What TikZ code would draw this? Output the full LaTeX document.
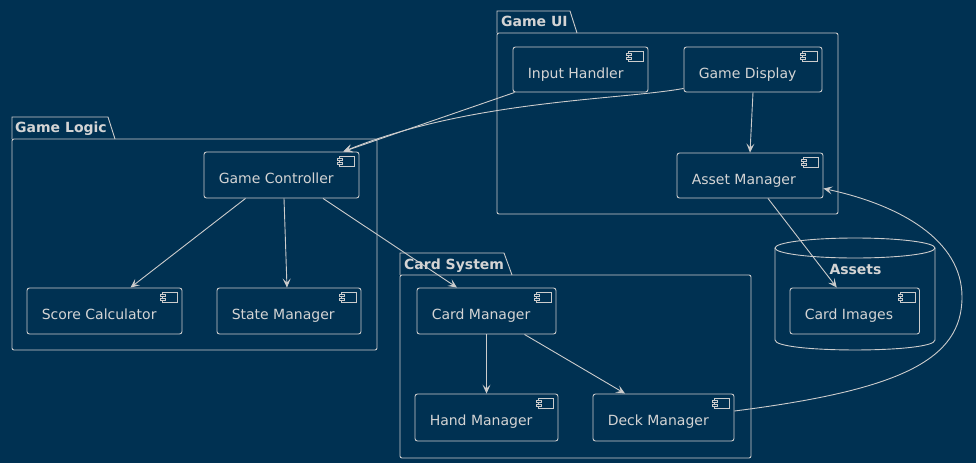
\documentclass[tikz,border=0pt]{standalone}
\usepackage{fontspec}
\setmainfont{DejaVu Sans}
\usetikzlibrary{arrows.meta,fit,calc}
\definecolor{bg}{HTML}{003152}
\definecolor{fg}{HTML}{CCCCCC}
\definecolor{tx}{HTML}{D4D4D4}
\tikzset{
  comp/.style={draw=fg, line width=0.9pt, rounded corners=2.5pt, inner sep=0pt},
  ctext/.style={anchor=base west, text=tx, font=\fontsize{14}{16}\selectfont, inner sep=0pt},
  ptitle/.style={anchor=base west, text=tx, font=\bfseries\fontsize{14}{16}\selectfont, inner sep=0pt},
  pkg/.style={draw=fg, line width=0.9pt},
  icon/.style={draw=fg, line width=0.8pt},
  edge/.style={draw=fg, line width=0.9pt, -{Stealth[length=9pt,width=8pt,inset=4pt]}},
}
\newcommand{\compbox}[6]{%
  \node[comp, fit={(#2,#3) (#4,#5)}] (#1) {};
  \node[ctext] at ([xshift=15pt,yshift=-32pt]#1.north west) {#6};
  \draw[icon] ([xshift=-20pt,yshift=-4.5pt]#1.north east) rectangle ([xshift=-5pt,yshift=-14.5pt]#1.north east);
  \draw[icon, fill=bg] ([xshift=-22pt,yshift=-6.5pt]#1.north east) rectangle ([xshift=-17.5pt,yshift=-8.5pt]#1.north east);
  \draw[icon, fill=bg] ([xshift=-22pt,yshift=-10.5pt]#1.north east) rectangle ([xshift=-17.5pt,yshift=-12.5pt]#1.north east);
}
\begin{document}
\begin{tikzpicture}[x=1pt,y=-1pt]
\fill[bg] (0,0) rectangle (976,463);
\useasboundingbox (0,0) rectangle (976,463);

% Packages
\draw[pkg] (497,33) -- (497,11) -- (570,11) -- (577,33);
\draw[pkg, rounded corners=2pt] (497,33) rectangle (838,214);
\node[ptitle] (tui) at (501,26) {Game UI};

\draw[pkg] (12,139) -- (12,117) -- (108,117) -- (115,139);
\draw[pkg, rounded corners=2pt] (12,139) rectangle (377,350);
\node[ptitle] (tlogic) at (15,132) {Game Logic};

\draw[pkg] (400,275) -- (400,253) -- (504,253) -- (512,275);
\draw[pkg, rounded corners=2pt] (400,275) rectangle (751,458);
\node[ptitle] (tcard) at (404,269) {Card System};

% Assets database
\draw[pkg] (855,248) ellipse [x radius=80, y radius=10];
\draw[pkg] (775,248) -- (775,340) .. controls (775,353.3) and (935,353.3) .. (935,340) -- (935,248);
\node[ptitle, anchor=base] (tassets) at (855.5,274) {Assets};

% Components
\compbox{ih}{513}{47}{648}{92}{Input Handler}
\compbox{gd}{684}{47}{822}{92}{Game Display}
\compbox{am}{677}{153}{823}{198}{Asset Manager}
\compbox{gc}{204}{152}{359}{198}{Game Controller}
\compbox{sc}{27}{288}{182}{334}{Score Calculator}
\compbox{stm}{217}{288}{361}{334}{State Manager}
\compbox{cm}{417}{288}{556}{334}{Card Manager}
\compbox{hm}{415}{394}{558}{441}{Hand Manager}
\compbox{dm}{593}{394}{734}{441}{Deck Manager}
\compbox{ci}{790}{288}{919.5}{334}{Card Images}

% Edges
\draw[edge] ([xshift=2pt]ih.south west) -- ([xshift=-16pt]gc.north east);
\draw[edge] ([yshift=4pt]gd.south west) .. controls (620,100) and (470,100) .. ([xshift=-16pt]gc.north east);
\draw[edge] (gd.south) -- (am.north);
\draw[edge] ([xshift=-36pt]gc.south) -- ([xshift=26pt]sc.north);
\draw[edge] ([xshift=2.5pt]gc.south) -- ([xshift=-2pt]stm.north);
\draw[edge] ([xshift=41.5pt]gc.south) -- ([xshift=-29.5pt]cm.north);
\draw[edge] (cm.south) -- (hm.north);
\draw[edge] ([xshift=38pt]cm.south) -- ([xshift=-38.5pt]dm.north);
\draw[edge] ([xshift=18pt]am.south) -- ([xshift=-18pt]ci.north);
\draw[edge] ([yshift=6.5pt]dm.east) .. controls (900,390) and (962,360) .. (962,297)
  .. controls (962,240) and (900,205) .. ([yshift=-13pt]am.east);
\end{tikzpicture}
\end{document}
